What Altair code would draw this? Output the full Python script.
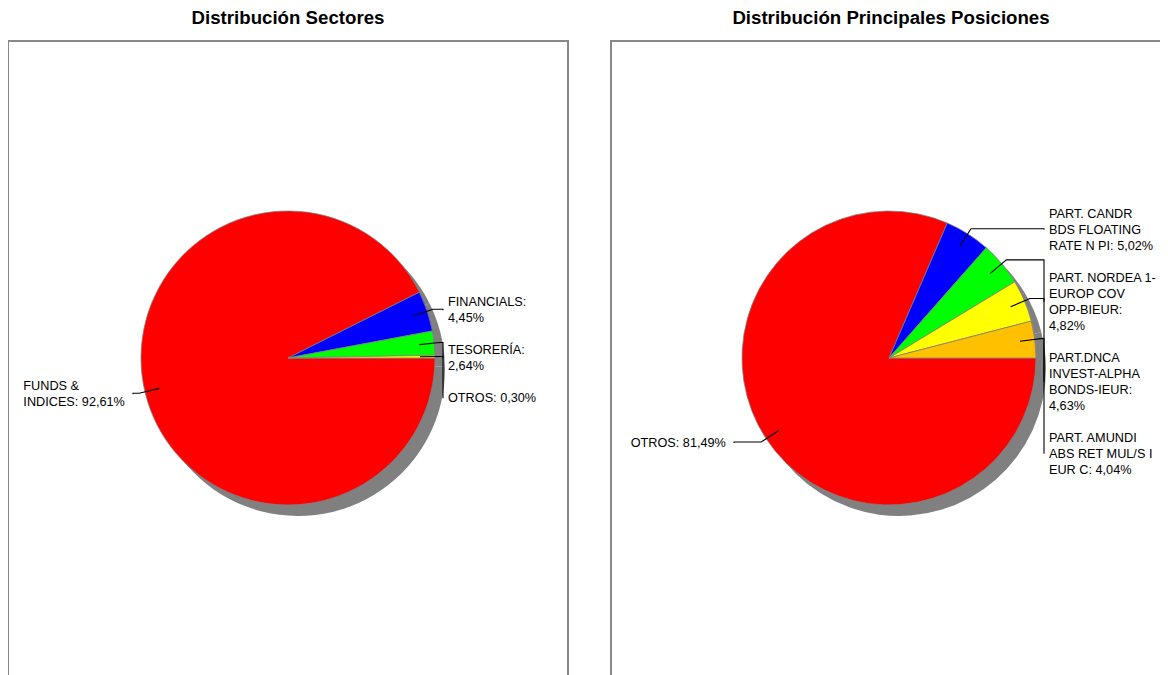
import math
import altair as alt
import pandas as pd

# ---------------- data ----------------
sector_names = ["FUNDS & INDICES", "FINANCIALS", "TESORERÍA", "OTROS"]
sector_values = [92.61, 4.45, 2.64, 0.30]
sector_labels = [["FUNDS &", "INDICES: 92,61%"], ["FINANCIALS:", "4,45%"],
                 ["TESORERÍA:", "2,64%"], ["OTROS: 0,30%"]]

pos_names = ["OTROS", "PART. CANDR BDS FLOATING RATE N PI",
             "PART. NORDEA 1-EUROP COV OPP-BIEUR",
             "PART.DNCA INVEST-ALPHA BONDS-IEUR",
             "PART. AMUNDI ABS RET MUL/S I EUR C"]
pos_values = [81.49, 5.02, 4.82, 4.63, 4.04]
pos_labels = [["OTROS: 81,49%"],
              ["PART. CANDR", "BDS FLOATING", "RATE N PI: 5,02%"],
              ["PART. NORDEA 1-", "EUROP COV", "OPP-BIEUR:", "4,82%"],
              ["PART.DNCA", "INVEST-ALPHA", "BONDS-IEUR:", "4,63%"],
              ["PART. AMUNDI", "ABS RET MUL/S I", "EUR C: 4,04%"]]

# ---------------- styles / layout ----------------
sector_colors = ["#FF0000", "#0000FF", "#00FF00", "#FFFF00"]
pos_colors = ["#FF0000", "#0000FF", "#00FF00", "#FFFF00", "#FFC000"]
W, H = 560, 660
R = 147
SHADOW_DX, SHADOW_DY = 10, 11
R_ANCHOR, R_ELBOW, BAR_OFF = 132, 153, 155
GAP_RIGHT, GAP_LEFT = 5, 8
LH, FS = 16, 12.7
FONT = "Liberation Sans"

# Arial-compatible advance widths (per 1000 em) for measuring label blocks
CW = {" ": 278, "%": 889, "&": 667, ",": 278, "-": 333, ".": 278, "/": 278, ":": 278,
      "A": 667, "B": 667, "C": 722, "D": 722, "E": 667, "F": 611, "G": 778, "H": 722,
      "I": 278, "J": 500, "K": 667, "L": 556, "M": 833, "N": 722, "O": 778, "P": 667,
      "Q": 778, "R": 722, "S": 667, "T": 611, "U": 722, "V": 667, "W": 944, "X": 667,
      "Y": 667, "Z": 611, "Í": 278}


def text_w(s):
    return sum(CW.get(c, 556) for c in s) * FS / 1000.0


def panel(title, names, values, labels, colors, cx, cy):
    df = pd.DataFrame({"name": names, "value": values, "idx": list(range(len(names)))})
    theta_scale = alt.Scale(range=[math.pi / 2, math.pi / 2 + 2 * math.pi])
    theta = alt.Theta("value:Q", stack=True, scale=theta_scale)

    shadow = alt.Chart(df).mark_arc(radius=R, color="#808080").encode(
        theta=theta, order=alt.Order("idx:Q"),
        x=alt.value(cx + SHADOW_DX), y=alt.value(cy + SHADOW_DY))
    pie = alt.Chart(df).mark_arc(radius=R, stroke="#808080", strokeWidth=0.8).encode(
        theta=theta, order=alt.Order("idx:Q"),
        color=alt.Color("name:N", scale=alt.Scale(domain=names, range=colors), legend=None),
        x=alt.value(cx), y=alt.value(cy))

    total = sum(values)
    cum = 0.0
    items = []
    for i, v in enumerate(values):
        mid = (cum + v / 2.0) / total * 2 * math.pi
        cum += v
        c, s = math.cos(mid), math.sin(mid)
        side = 1 if c >= 0 else -1
        items.append(dict(i=i, side=side,
                          ax=cx + R_ANCHOR * c, ay=cy + R_ANCHOR * s,
                          ex=cx + R_ELBOW * c, ey=cy + R_ELBOW * s,
                          bx=cx + side * BAR_OFF, lines=labels[i]))

    line_rows, text_rows = [], []
    for side in (1, -1):
        grp = sorted([it for it in items if it["side"] == side], key=lambda d: d["ey"])
        prev_last = -1e9
        for it in grp:
            n = len(it["lines"])
            first = max(it["ey"] + 1 - (n - 1) * LH / 2.0, prev_last + 2 * LH)
            prev_last = first + (n - 1) * LH
            center = first + (n - 1) * LH / 2.0
            pts = [(it["ax"], it["ay"]), (it["ex"], it["ey"]),
                   (it["bx"], it["ey"]), (it["bx"], center)]
            for k, (px, py) in enumerate(pts):
                line_rows.append(dict(lid=it["i"], seq=k, x=px, y=py))
            if side == 1:
                tx = it["bx"] + GAP_RIGHT
            else:
                tx = it["bx"] - GAP_LEFT - max(text_w(t) for t in it["lines"])
            for j, t in enumerate(it["lines"]):
                text_rows.append(dict(x=tx, y=first + j * LH, t=t))

    leaders = alt.Chart(pd.DataFrame(line_rows)).mark_line(
        color="black", strokeWidth=1.1).encode(
        x=alt.X("x:Q", scale=None, axis=None),
        y=alt.Y("y:Q", scale=None, axis=None),
        detail="lid:N", order=alt.Order("seq:Q"))
    texts = alt.Chart(pd.DataFrame(text_rows)).mark_text(
        align="left", baseline="middle", font=FONT, fontSize=FS, color="black").encode(
        x=alt.X("x:Q", scale=None, axis=None),
        y=alt.Y("y:Q", scale=None, axis=None),
        text="t:N")

    return alt.layer(shadow, pie, leaders, texts).properties(
        width=W, height=H,
        title=alt.TitleParams(title, fontSize=18.67, fontWeight="bold", font=FONT,
                              anchor="middle", baseline="alphabetic", offset=-2,
                              frame="group", color="black"))


left = panel("Distribución Sectores", sector_names, sector_values, sector_labels,
             sector_colors, 280, 317)
right = panel("Distribución Principales Posiciones", pos_names, pos_values, pos_labels,
              pos_colors, 278, 317)

chart = alt.hconcat(left, right, spacing=41).resolve_scale(
    color="independent", theta="independent").properties(
    padding={"left": -1, "top": 0, "right": -12, "bottom": 0}).configure_view(
    stroke="#888888", strokeWidth=2)

chart.save("out.html", embed_options={"renderer": "svg", "actions": False})
